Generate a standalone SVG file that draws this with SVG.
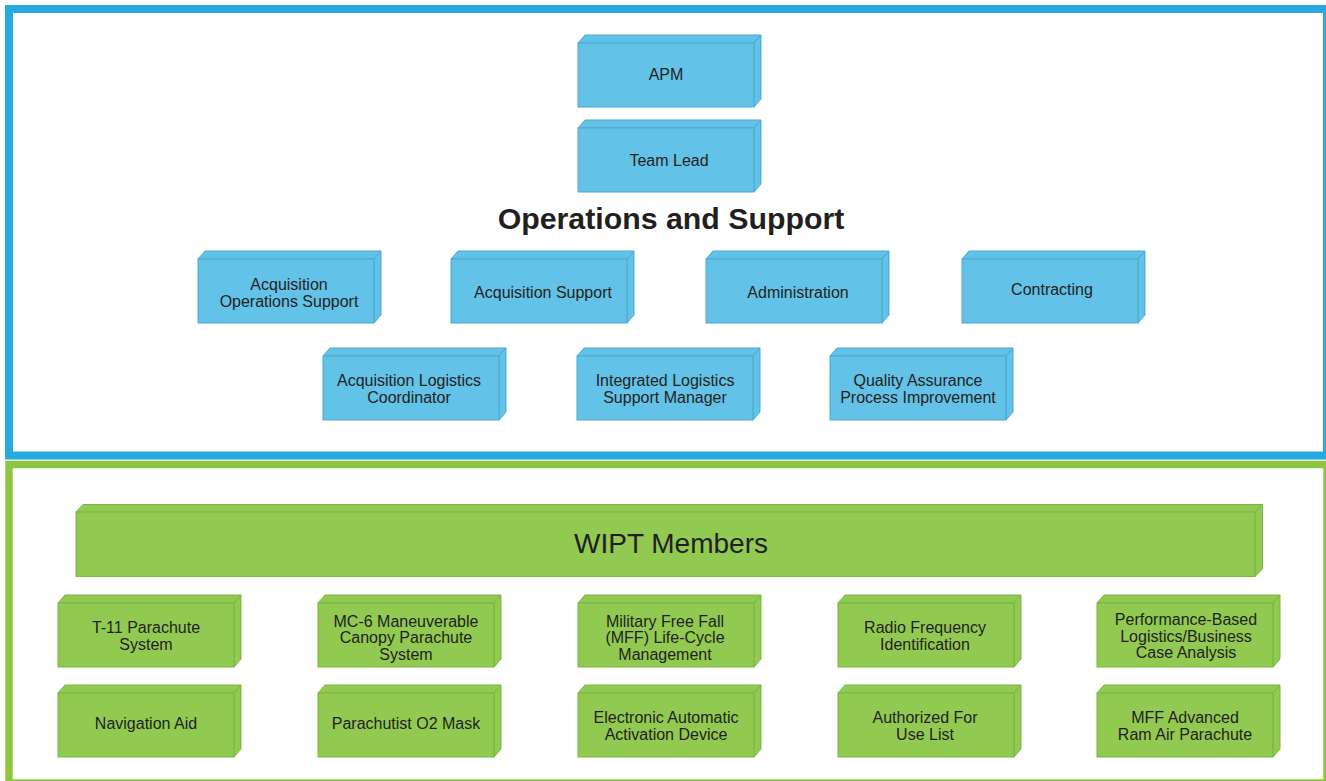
<svg xmlns="http://www.w3.org/2000/svg" xmlns:xlink="http://www.w3.org/1999/xlink" width="1326" height="781" viewBox="0 0 1326 781">
<style>
text{font-family:"Liberation Sans",Arial,sans-serif;fill:#231F20;stroke:none;text-anchor:middle;font-size:16px}
.title{font-size:30.3px;font-weight:bold}
.wipt{font-size:28px}
.bf{fill:#62C2E8;stroke:#4BA9CF;stroke-width:1}
.gf{fill:#92C951;stroke:#76B743;stroke-width:1}
</style>
<defs>
<g id="blueBox" class="bf">
<polygon points="0,0 7,-8 183,-8 176,0"/>
<polygon points="176,0 183,-8 183,56 176,64"/>
<rect x="0" y="0" width="176" height="64"/>
</g>
<g id="greenBox" class="gf">
<polygon points="0,0 7,-8 183,-8 176,0"/>
<polygon points="176,0 183,-8 183,56 176,64"/>
<rect x="0" y="0" width="176" height="64"/>
</g>
</defs>
<rect x="0" y="0" width="1326" height="781" fill="#ffffff"/>
<rect x="9" y="9" width="1318" height="446.5" fill="none" stroke="#27AAE1" stroke-width="8"/>
<rect x="9" y="464.5" width="1318" height="318.5" fill="none" stroke="#8DC63F" stroke-width="7.5"/>
<g id="connectors"></g>
<g id="apm"><use xlink:href="#blueBox" x="578" y="43"/><text x="666" y="80">APM</text></g>
<g id="teamlead"><use xlink:href="#blueBox" x="578" y="128"/><text x="669" y="165.5">Team Lead</text></g>
<g id="title"><text class="title" x="671" y="229">Operations and Support</text></g>
<g id="acqops"><use xlink:href="#blueBox" x="198" y="259"/><text x="289" y="290">Acquisition</text><text x="289" y="307">Operations Support</text></g>
<g id="acqsupport"><use xlink:href="#blueBox" x="451" y="259"/><text x="543" y="297.5">Acquisition Support</text></g>
<g id="admin"><use xlink:href="#blueBox" x="706" y="259"/><text x="798" y="297.5">Administration</text></g>
<g id="contracting"><use xlink:href="#blueBox" x="962" y="259"/><text x="1052" y="294.5">Contracting</text></g>
<g id="alc"><use xlink:href="#blueBox" x="323" y="356"/><text x="409" y="385.5">Acquisition Logistics</text><text x="409" y="402.5">Coordinator</text></g>
<g id="ilsm"><use xlink:href="#blueBox" x="577" y="356"/><text x="665" y="385.5">Integrated Logistics</text><text x="665" y="402.5">Support Manager</text></g>
<g id="qapi"><use xlink:href="#blueBox" x="830" y="356"/><text x="918" y="385.5">Quality Assurance</text><text x="918" y="402.5">Process Improvement</text></g>
<g id="wipt">
<g class="gf">
<polygon points="76,512 83,504.5 1262.5,504.5 1255,512"/>
<polygon points="1255,512 1262.5,504.5 1262.5,569 1255,576.5"/>
<rect x="76" y="512" width="1179" height="64.5"/>
</g>
<text class="wipt" x="671" y="553">WIPT Members</text>
</g>
<g id="t11"><use xlink:href="#greenBox" x="58" y="603"/><text x="146" y="632.5">T-11 Parachute</text><text x="146" y="649.5">System</text></g>
<g id="mc6"><use xlink:href="#greenBox" x="318" y="603"/><text x="406" y="626.5">MC-6 Maneuverable</text><text x="406" y="642.5">Canopy Parachute</text><text x="406" y="659.5">System</text></g>
<g id="mff"><use xlink:href="#greenBox" x="578" y="603"/><text x="665" y="626.5">Military Free Fall</text><text x="665" y="642.5">(MFF) Life-Cycle</text><text x="665" y="659.5">Management</text></g>
<g id="rfid"><use xlink:href="#greenBox" x="838" y="603"/><text x="925" y="632.5">Radio Frequency</text><text x="925" y="649.5">Identification</text></g>
<g id="pbl"><use xlink:href="#greenBox" x="1097" y="603"/><text x="1186" y="624.5">Performance-Based</text><text x="1186" y="641.5">Logistics/Business</text><text x="1186" y="657.5">Case Analysis</text></g>
<g id="nav"><use xlink:href="#greenBox" x="58" y="693"/><text x="146" y="728.5">Navigation Aid</text></g>
<g id="o2"><use xlink:href="#greenBox" x="318" y="693"/><text x="406" y="728.5">Parachutist O2 Mask</text></g>
<g id="eaad"><use xlink:href="#greenBox" x="578" y="693"/><text x="666" y="722.5">Electronic Automatic</text><text x="666" y="739.5">Activation Device</text></g>
<g id="aful"><use xlink:href="#greenBox" x="838" y="693"/><text x="925" y="722.5">Authorized For</text><text x="925" y="739.5">Use List</text></g>
<g id="maarp"><use xlink:href="#greenBox" x="1097" y="693"/><text x="1185" y="722.5">MFF Advanced</text><text x="1185" y="739.5">Ram Air Parachute</text></g>
</svg>
